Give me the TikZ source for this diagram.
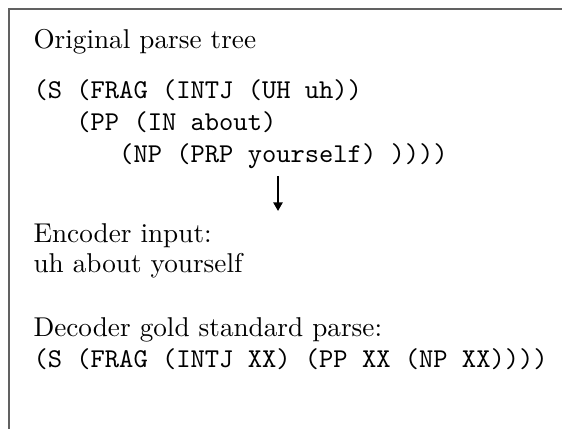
\documentclass[tikz,border=0pt]{standalone}
\usetikzlibrary{arrows.meta}
\begin{document}
\begin{tikzpicture}[x=0.3676pt, y=-0.3676pt,
  frameline/.style={draw=black!62, line width=0.5pt},
  plain/.style={anchor=base west, inner sep=0pt, font=\rmfamily},
  code/.style={anchor=base west, inner sep=0pt, font=\ttfamily},
  flow/.style={line width=0.75pt, -{Triangle[length=3.2pt,width=3.4pt]}}]
  \useasboundingbox (0,0) rectangle (562,429);
  % open frame: only the top and left edges fall inside the picture
  \draw[frameline] (9,429) -- (9,9) -- (562,9);

  \node[plain] (title) at (33,49) {Original parse tree};
  \node[code] (tree1) at (33,99) {(S (FRAG (INTJ (UH uh))};
  \node[code] (tree2) at (33,131) {~~~(PP (IN about)};
  \node[code] (tree3) at (33,163) {~~~~~~(NP (PRP yourself) ))))};

  \coordinate (arrowtop) at (278,176);
  \coordinate (arrowtip) at (278,211);
  \draw[flow] (arrowtop) -- (arrowtip);

  \node[plain] (enc) at (33,243) {Encoder input:};
  \node[plain] (encin) at (33,273) {uh about yourself};
  \node[plain] (dec) at (33,336) {Decoder gold standard parse:};
  \node[code] (decout) at (33,367) {(S (FRAG (INTJ XX) (PP XX (NP XX))))};
\end{tikzpicture}
\end{document}
